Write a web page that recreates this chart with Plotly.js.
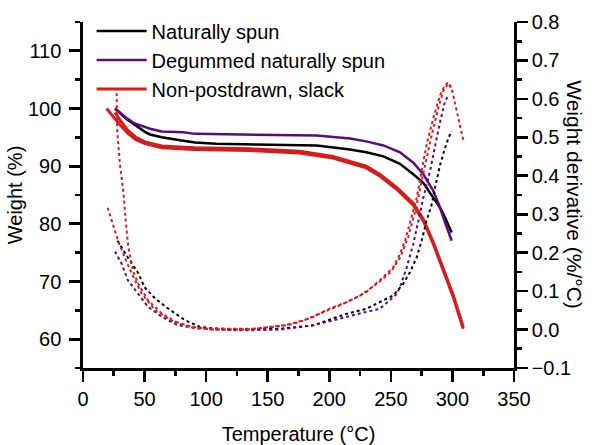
<!DOCTYPE html>
<html>
<head>
<meta charset="utf-8">
<script src="https://cdn.plot.ly/plotly-3.0.1.min.js"></script>
<style>html,body{margin:0;padding:0;background:#fff}#plot{width:594px;height:445px}</style>
</head>
<body>
<div id="plot"></div>
<script>
// ---- Weight curves (left axis, %) ----
const blackT = [26, 30, 35, 42, 50, 54.4, 64, 81.5, 91, 108.6, 135, 162.7, 189.8, 216.8, 230, 243.9, 257.4, 268.2, 276.4, 284.5, 290, 294, 299.4];
const blackW = [100, 99.2, 98.2, 97.2, 96.0, 95.5, 95.0, 94.4, 94.1, 93.9, 93.8, 93.74, 93.57, 92.88, 92.4, 91.7, 90.4, 88.6, 87.1, 84.5, 82.8, 81.1, 78.5];

const purpleT = [26, 30, 35, 42, 54.4, 64, 81.5, 91, 135.6, 189.8, 216.8, 230, 243.9, 257.4, 268.2, 276.4, 284.5, 288.6, 292.6, 299.4];
const purpleW = [100, 99.3, 98.4, 97.4, 96.5, 96.0, 95.86, 95.6, 95.47, 95.3, 94.78, 94.3, 93.6, 92.4, 90.6, 88.6, 85.7, 83.6, 81.1, 77.07];

const redAT = [19.2, 22, 26, 30, 36.5, 43, 50.3, 64, 81.5, 91, 135.6, 176, 203, 230, 241, 254.7, 268, 276.4, 284.5, 292.6, 300.7, 308.8];
const redAW = [100, 99.2, 98.2, 97.2, 95.7, 94.6, 93.9, 93.2, 93.0, 92.9, 92.7, 92.3, 91.4, 89.7, 88.3, 86.0, 83.3, 80.5, 76.5, 71.9, 67.3, 61.8];

const redBT = [26, 30, 36.5, 43, 50.3, 64, 81.5, 91, 135.6, 176, 203, 230, 241, 254.7, 268, 276.4, 284.5, 292.6, 300.7, 308.8];
const redBW = [99.3, 98.0, 96.2, 95.0, 94.2, 93.5, 93.3, 93.2, 93.0, 92.6, 91.7, 90.0, 88.6, 86.3, 83.6, 80.8, 76.8, 72.2, 67.6, 62.1];

// ---- Derivative curves (right axis, %/°C) ----
const blackDT = [28, 32, 36.5, 45, 50, 58.5, 69, 83, 95, 105.6, 130, 160, 187, 214, 230, 243.9, 252, 260, 265.5, 271, 275, 279, 283.2, 285.9, 290, 294, 296.7, 299.4];
const blackD  = [0.231, 0.21, 0.187, 0.146, 0.11, 0.081, 0.055, 0.024, 0.007, 0.003, 0.0, 0.002, 0.011, 0.041, 0.054, 0.076, 0.089, 0.119, 0.149, 0.188, 0.231, 0.283, 0.326, 0.369, 0.429, 0.472, 0.498, 0.516];

const purpleDT = [26, 31.4, 36.5, 44.7, 52.8, 64, 77, 88, 105.6, 130, 160, 187, 214, 230, 241, 249.3, 254.7, 257.4, 262.9, 268.2, 272.3, 275, 276.4, 281.8, 285.9, 290, 294, 296.7];
const purpleD  = [0.203, 0.171, 0.128, 0.094, 0.059, 0.033, 0.011, 0.006, 0.0, -0.002, 0.0, 0.011, 0.034, 0.046, 0.054, 0.076, 0.092, 0.11, 0.162, 0.222, 0.283, 0.317, 0.343, 0.412, 0.481, 0.541, 0.593, 0.61];

const redD1T = [20, 22, 26, 28.5, 34, 39.5, 47.6, 58.5, 72, 88, 105.6, 133, 160, 168, 176, 187, 200.6, 214, 230, 241, 252, 257.4, 261.5, 265.5, 268.2, 271, 275, 279, 284.5, 290, 294, 296.7, 299.4, 302, 304.8, 307.5, 308.8];
const redD1  = [0.317, 0.296, 0.257, 0.231, 0.187, 0.146, 0.094, 0.05, 0.024, 0.007, 0.0, 0.0, 0.009, 0.013, 0.02, 0.033, 0.055, 0.071, 0.097, 0.128, 0.162, 0.197, 0.231, 0.274, 0.309, 0.343, 0.412, 0.481, 0.55, 0.61, 0.636, 0.643, 0.627, 0.593, 0.55, 0.511, 0.494];

const redD2T = [27.3, 27.8, 30.0, 32.7, 34.7, 36.8, 40.6, 44.7, 52.8, 64, 77, 91, 110, 140, 165, 180, 195, 210, 225, 240, 250, 258, 264, 270, 276, 282, 288, 293, 297, 300];
const redD2  = [0.615, 0.515, 0.43, 0.36, 0.283, 0.214, 0.153, 0.12, 0.076, 0.042, 0.016, 0.003, 0.002, 0.002, 0.012, 0.025, 0.045, 0.065, 0.088, 0.122, 0.15, 0.19, 0.24, 0.31, 0.40, 0.49, 0.57, 0.625, 0.64, 0.62];

const legendNames = ["Naturally spun", "Degummed naturally spun", "Non-postdrawn, slack"];

const BLACK = '#000000', PURPLE = '#5b0c7c', RED = '#d41e1e';

const traces = [
  {x: blackDT, y: blackD, yaxis: 'y2', mode: 'lines', line: {color: BLACK, width: 2, dash: 'dot'}, showlegend: false},
  {x: purpleDT, y: purpleD, yaxis: 'y2', mode: 'lines', line: {color: PURPLE, width: 2, dash: 'dot'}, showlegend: false},
  {x: redD1T, y: redD1, yaxis: 'y2', mode: 'lines', line: {color: RED, width: 2, dash: 'dot'}, showlegend: false},
  {x: redD2T, y: redD2, yaxis: 'y2', mode: 'lines', line: {color: RED, width: 2, dash: 'dot'}, showlegend: false},
  {x: blackT, y: blackW, mode: 'lines', name: legendNames[0], line: {color: BLACK, width: 2.5}},
  {x: purpleT, y: purpleW, mode: 'lines', name: legendNames[1], line: {color: PURPLE, width: 2.5}},
  {x: redAT, y: redAW, mode: 'lines', name: legendNames[2], line: {color: RED, width: 3}},
  {x: redBT, y: redBW, mode: 'lines', showlegend: false, line: {color: RED, width: 3}}
];

const FONT = 'Liberation Sans, Arial, sans-serif';
const axisCommon = {
  showgrid: false, zeroline: false, showline: true, linecolor: '#000', linewidth: 2.7,
  ticks: 'outside', ticklen: 11, tickwidth: 2.7, tickcolor: '#000',
  tickfont: {family: FONT, size: 20, color: '#000'}
};

const layout = {
  width: 594, height: 445,
  margin: {l: 83, r: 80, t: 20, b: 77},
  paper_bgcolor: '#fff', plot_bgcolor: '#fff',
  font: {family: FONT, color: '#000'},
  xaxis: Object.assign({}, axisCommon, {
    range: [0, 350], dtick: 50, tick0: 0,
    minor: {dtick: 25, ticks: 'outside', ticklen: 5, tickwidth: 2.7, tickcolor: '#000'},
    title: {text: 'Temperature (°C)', font: {family: FONT, size: 20}, standoff: 19}
  }),
  yaxis: Object.assign({}, axisCommon, {
    range: [55, 115], dtick: 10, tick0: 60, ticklabelstandoff: 4,
    minor: {dtick: 5, ticks: 'outside', ticklen: 5, tickwidth: 2.7, tickcolor: '#000'},
    title: {text: 'Weight (%)', font: {family: FONT, size: 20}, standoff: 0}
  }),
  yaxis2: Object.assign({}, axisCommon, {
    overlaying: 'y', side: 'right', anchor: 'x',
    range: [-0.1, 0.8], dtick: 0.1, tick0: 0, tickformat: '.1f',
    minor: {dtick: 0.05, ticks: 'outside', ticklen: 5, tickwidth: 2.7, tickcolor: '#000'}
  }),
  legend: {x: 0.02, y: 1.03, xanchor: 'left', yanchor: 'top', bgcolor: 'rgba(0,0,0,0)',
           itemwidth: 50, font: {family: FONT, size: 20, color: '#000'}, tracegroupgap: 0},
  annotations: [{
    text: 'Weight derivative (%/°C)', xref: 'paper', yref: 'paper', x: 1.141, y: 0.5,
    xanchor: 'center', yanchor: 'middle', textangle: 90, showarrow: false,
    font: {family: FONT, size: 21, color: '#000'}
  }]
};

Plotly.newPlot('plot', traces, layout, {displayModeBar: false, staticPlot: true});
</script>
</body>
</html>
